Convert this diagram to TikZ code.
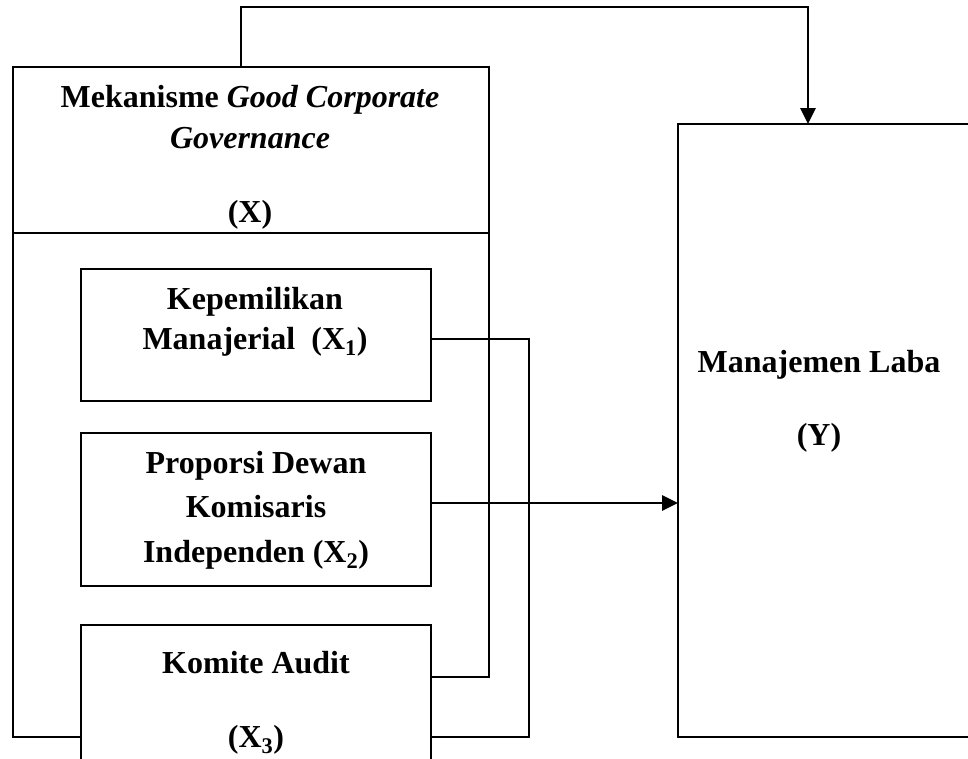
\documentclass[tikz,border=0pt]{standalone}
\usepackage{fontspec}
\setmainfont{Liberation Serif}
\usetikzlibrary{arrows.meta}
\tikzset{
  box/.style={draw, line width=2.4pt, anchor=north west, inner sep=0pt, outer sep=0pt},
  lbl/.style={font=\bfseries\fontsize{32}{41}\selectfont, align=center},
  conn/.style={line width=2.8pt},
  arr/.style={conn, -{Triangle[length=16pt,width=15pt]}}
}
\begin{document}
\begin{tikzpicture}[x=1pt, y=-1pt]
    \useasboundingbox (0,0) rectangle (968,758);
    \clip (0,0) rectangle (968,758);

    % kotak variabel X
    \node[box, minimum width=476pt, minimum height=166pt] (X) at (13,67) {};
    \node[lbl] (Xt) at (250,157) {Mekanisme \textit{Good Corporate}\\ \textit{Governance}\\[33pt] (X)};

    % indikator X1, X2, X3
    \node[box, minimum width=350pt, minimum height=132pt] (X1) at (81,269) {};
    \node[lbl, font=\bfseries\fontsize{32}{40}\selectfont] (X1t) at (255,322) {Kepemilikan\\ Manajerial~ (X\textsubscript{1})};
    \node[box, minimum width=350pt, minimum height=153pt] (X2) at (81,433) {};
    \node[lbl, font=\bfseries\fontsize{32}{44.5}\selectfont] (X2t) at (256,510) {Proporsi Dewan\\ Komisaris\\ Independen (X\textsubscript{2})};
    \node[box, minimum width=350pt, minimum height=180pt] (X3) at (81,625) {};
    \node[lbl] (X3t) at (256,703) {Komite Audit\\[33pt] (X\textsubscript{3})};

    % variabel Y
    \node[box, minimum width=320pt, minimum height=613pt] (Y) at (678,124) {};
    \node[lbl] (Yt) at (819,401) {Manajemen Laba\\[32pt] (Y)};

    % bingkai X
    \coordinate (kiri) at (13,737);
    \coordinate (kanan) at (489,677);
    \draw[conn] (X.south west) -- (kiri) -- (X3.west |- kiri);
    \draw[conn] (X.south east) -- (kanan) -- (X3.east |- kanan);

    % panah ke Y
    \coordinate (atas1) at (241,7);
    \coordinate (atas2) at (808,7);
    \draw[arr] (X.north -| atas1) -- (atas1) -- (atas2) -- (Y.north -| atas2);
    \coordinate (sambung) at (529,339);
    \coordinate (bawah) at (529,737);
    \draw[conn] (X1.east |- sambung) -- (sambung) -- (bawah) -- (X3.east |- bawah);
    \coordinate (panah) at (0,503);
    \draw[arr] (X2.east |- panah) -- (Y.west |- panah);
\end{tikzpicture}
\end{document}
